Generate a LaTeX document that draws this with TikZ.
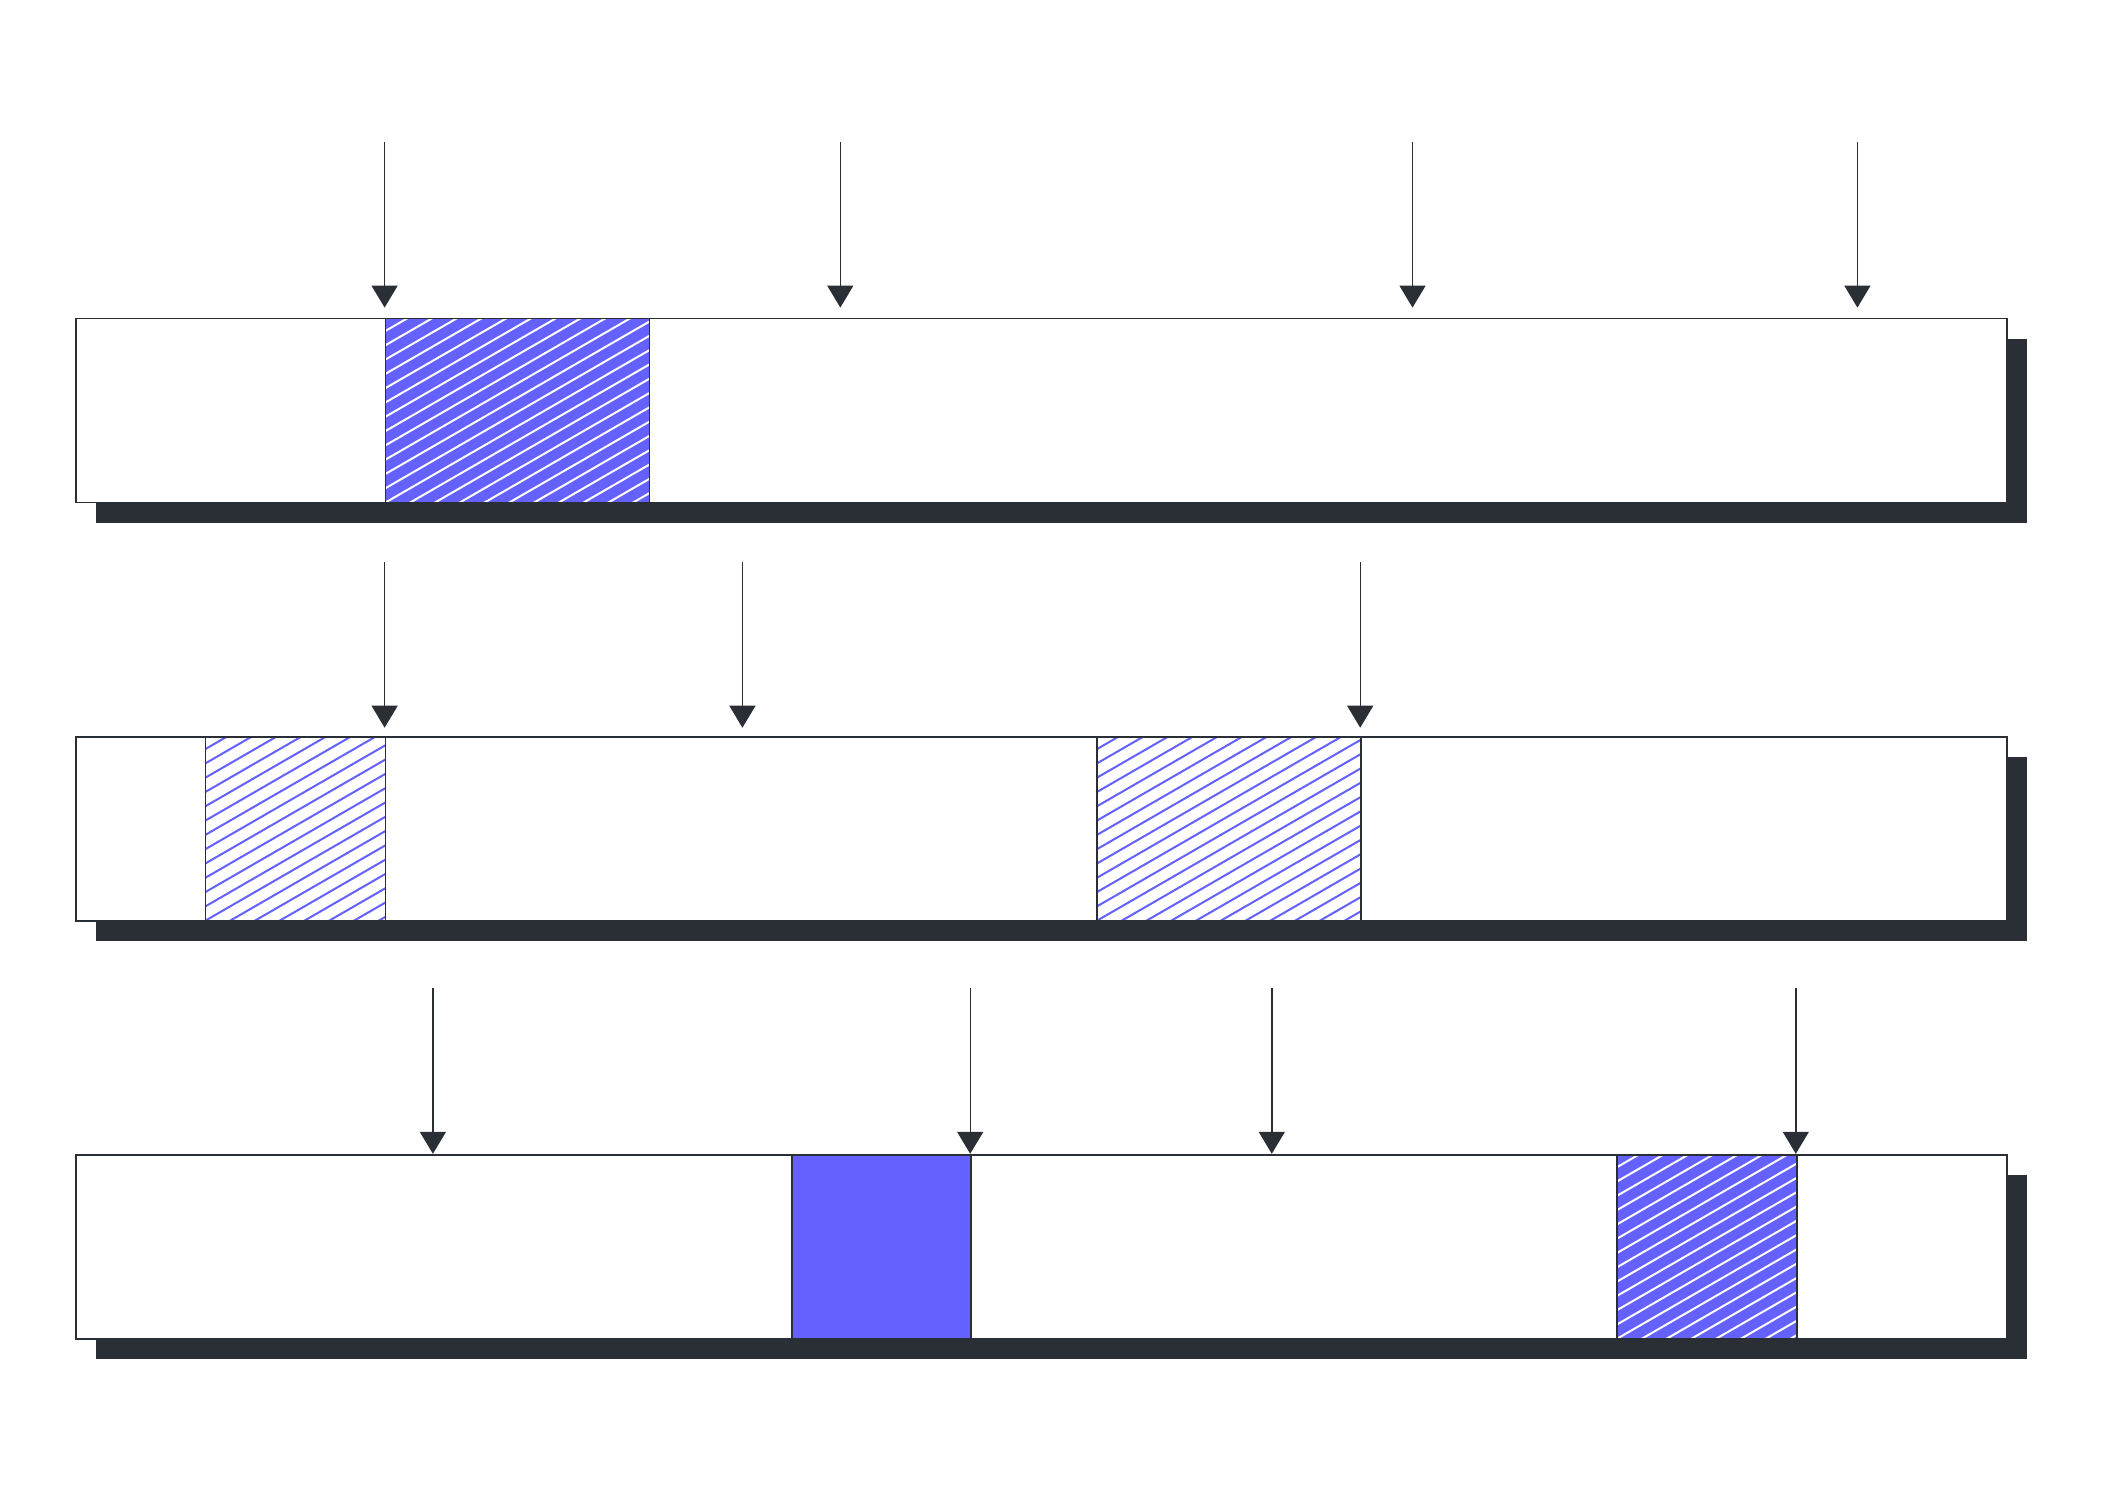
\documentclass[tikz,border=0pt]{standalone}
\usetikzlibrary{arrows.meta}
\usetikzlibrary{positioning}
\usetikzlibrary{shadows}
\definecolor{ink}{HTML}{2A2E35}
\definecolor{violet}{HTML}{6461FF}

\begin{document}
\begin{tikzpicture}[x=1pt,y=-1pt,>={Triangle[length=22pt,width=26pt]},
    line width=1.8pt,
    strip/.style={draw=ink,fill=white,anchor=north west,inner sep=0pt,
      minimum width=1931pt,minimum height=184pt,
      drop shadow={shadow xshift=20pt,shadow yshift=-20pt,fill=ink,opacity=1}},
    block/.style={draw=ink,anchor=north west,inner sep=0pt,minimum height=184pt},
    hatch/.style={path picture={
      \foreach \k in {-22,...,15}
        \draw[line width=2pt,#1] ([yshift=\k*14.3pt]path picture bounding box.south west) -- ++(30:600pt);}},
    solid block/.style={block,fill=violet},
    dense block/.style={block,fill=violet,hatch=white},
    light block/.style={block,fill=white,hatch=violet},
    pointer/.style={->,line width=1.4pt,draw=ink,fill=ink}]

  \fill[white] (0,0) rectangle (2101,1501);
  \useasboundingbox (0,0) rectangle (2101,1501);

  % three strips
  \node[strip] (r1) at (75,317.6) {};
  \node[strip] (r2) at (75,735.7) {};
  \node[strip] (r3) at (75,1153.8) {};

  % marked blocks
  \node[dense block,minimum width=264pt] (b1) at (384.6,317.6) {};
  \node[light block,minimum width=180pt] (b2) at (204.6,735.7) {};
  \node[light block,minimum width=264pt] (b3) at (1096.2,735.7) {};
  \node[solid block,minimum width=179.5pt] (b4) at (790.7,1153.8) {};
  \node[dense block,minimum width=179.6pt] (b5) at (1616.2,1153.8) {};

  % pointers
  \foreach \x [count=\i] in {384.6,840.3,1412.5,1857.4} {
    \coordinate (p1-\i) at (\x,142);
    \draw[pointer,shorten >=10pt] (p1-\i) -- (p1-\i |- r1.north);
  }
  \foreach \x [count=\i] in {384.6,742.4,1360.2} {
    \coordinate (p2-\i) at (\x,562);
    \draw[pointer,shorten >=8pt] (p2-\i) -- (p2-\i |- r2.north);
  }
  \foreach \x [count=\i] in {432.9,970.2,1271.8,1795.8} {
    \coordinate (p3-\i) at (\x,988);
    \draw[pointer] (p3-\i) -- (p3-\i |- r3.north);
  }
\end{tikzpicture}
\end{document}
